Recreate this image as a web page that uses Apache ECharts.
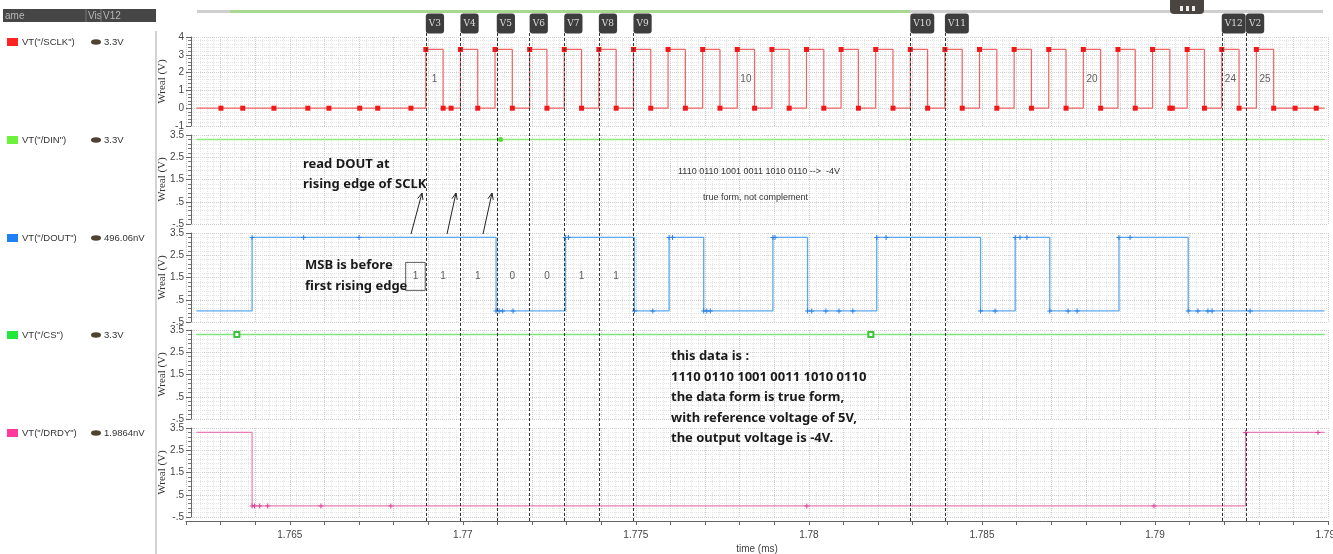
<!DOCTYPE html>
<html>
<head>
<meta charset="utf-8">
<script src="https://cdn.jsdelivr.net/npm/echarts@6/dist/echarts.min.js"></script>
<style>
html, body { margin: 0; padding: 0; background: #fff; }
#main { width: 1333px; height: 554px; }
</style>
</head>
<body>
<div id="main"></div>
<script>
// signals shown in the browser column
var signalNames = ['VT("/SCLK")', 'VT("/DIN")', 'VT("/DOUT")', 'VT("/CS")', 'VT("/DRDY")']
var signalColors = ['#ff2424', '#6cf23c', '#1f80f5', '#22e83a', '#ff3a9c']
var cursorValues = ['3.3V', '3.3V', '496.06nV', '3.3V', '1.9864nV']

// time range (ms)
var timeMin = 1.762
var timeMax = 1.795
var startT = 1.7623
var endT = 1.7949

// SCLK edges (ms)
var sclkRise = [1.76893, 1.76993, 1.77093, 1.77193, 1.77293, 1.77393, 1.77493, 1.77593, 1.77693, 1.77793,
  1.77893, 1.77993, 1.78093, 1.78193, 1.78293, 1.78393, 1.78493, 1.78593, 1.78693, 1.78793,
  1.78893, 1.78993, 1.79093, 1.79193, 1.79293]
var sclkFall = [1.76943, 1.77043, 1.77143, 1.77243, 1.77343, 1.77443, 1.77543, 1.77643, 1.77743, 1.77843,
  1.77943, 1.78043, 1.78143, 1.78243, 1.78343, 1.78443, 1.78543, 1.78643, 1.78743, 1.78843,
  1.78943, 1.79043, 1.79143, 1.79243, 1.79343]
var sclkSamples = [1.76301, 1.76364, 1.76454, 1.76552, 1.76613, 1.76702, 1.76754, 1.7685, 1.76966, 1.7905, 1.79405, 1.79466]
var pulseLabels = [1, 10, 20, 24, 25]

// DOUT edges and levels
var doutEdgeT = [1.76391, 1.77096, 1.77296, 1.77496, 1.77596, 1.77696, 1.77896, 1.77996, 1.78196, 1.78496, 1.78596, 1.78696, 1.78896, 1.79096]
var doutEdgeV = [3.3, 0, 3.3, 0, 3.3, 0, 3.3, 0, 3.3, 0, 3.3, 0, 3.3, 0]
var doutSamples = [1.7654, 1.767, 1.77105, 1.77115, 1.77145, 1.77305, 1.77549, 1.77606, 1.77705, 1.77715, 1.77902,
  1.78008, 1.78049, 1.78087, 1.78127, 1.78223, 1.78538, 1.7861, 1.7863, 1.78749, 1.78775, 1.78928,
  1.79124, 1.79153, 1.79165, 1.79275]
var doutBits = ['1', '1', '1', '0', '0', '1', '1']

// DRDY edges
var drdyEdgeT = [1.76391, 1.79262]
var drdyEdgeV = [0, 3.3]
var drdySamples = [1.76398, 1.76413, 1.76436, 1.7659, 1.76792, 1.77994, 1.78997, 1.79471]

// DIN and CS stay high
var dinSamples = [1.77109]
var csSamples = [1.76347, 1.78179]

// cursors
var cursorNames = ['V3', 'V4', 'V5', 'V6', 'V7', 'V8', 'V9', 'V10', 'V11', 'V12', 'V2']
var cursorT = [1.76893, 1.76993, 1.77098, 1.77193, 1.77293, 1.77393, 1.77493, 1.78293, 1.78393, 1.79193, 1.79263]

var gridTops = [37, 135, 233, 330, 428]
var gridH = 89
var gridLeft = 186
var gridW = 1142

function stepData(startLevel, edgeT, edgeV, sampleT) {
  var ev = []
  edgeT.forEach(function (t, i) { ev.push([t, edgeV[i]]) })
  sampleT.forEach(function (t) { ev.push([t, null]) })
  ev.sort(function (a, b) { return a[0] - b[0] })
  var pts = [{ value: [startT, startLevel], symbol: 'none' }]
  var level = startLevel
  ev.forEach(function (e) {
    if (e[1] !== null) level = e[1]
    pts.push({ value: [e[0], level] })
  })
  pts.push({ value: [endT, level], symbol: 'none' })
  return pts
}

var sclkEdgeT = []
var sclkEdgeV = []
sclkRise.forEach(function (t, i) {
  sclkEdgeT.push(t, sclkFall[i])
  sclkEdgeV.push(3.3, 0)
})

function fmtY(v) {
  var s = String(+v.toFixed(1))
  return s.replace(/^(-?)0\./, '$1.')
}

function xAxisFor(i) {
  var bottom = i === 4
  return {
    gridIndex: i, type: 'value', min: timeMin, max: timeMax, interval: 0.001,
    offset: bottom ? 4 : 0,
    axisLine: { show: bottom, onZero: false, lineStyle: { color: '#666' } },
    axisTick: { show: bottom, length: 4, lineStyle: { color: '#666' } },
    axisLabel: {
      show: bottom, fontSize: 10, color: '#444', margin: 9, fontFamily: 'Liberation Sans',
      formatter: function (v) {
        var m = Math.round(v * 1000)
        return m % 5 === 0 ? String(m / 1000) : ''
      }
    },
    name: bottom ? 'time (ms)' : '',
    nameLocation: 'middle', nameGap: 23,
    nameTextStyle: { fontSize: 10, color: '#444', fontFamily: 'Liberation Sans' },
    splitLine: { show: true, lineStyle: { color: '#cccccc', type: 'dotted' } },
    minorTick: { show: false, splitNumber: 5 },
    minorSplitLine: { show: true, lineStyle: { color: '#e6e6e6', type: 'dotted' } }
  }
}

function yAxisFor(i) {
  var clk = i === 0
  return {
    gridIndex: i, type: 'value', min: clk ? -1 : -0.5, max: clk ? 4 : 3.5, interval: 1,
    offset: -5,
    name: 'Wreal (V)', nameLocation: 'middle', nameGap: 23, nameMoveOverlap: false,
    nameTextStyle: { fontFamily: 'Liberation Serif', fontSize: 11, color: '#333' },
    axisLine: { show: true, lineStyle: { color: '#666' } },
    axisTick: { show: true, length: 5, lineStyle: { color: '#666' } },
    minorTick: { show: true, splitNumber: 5, length: 3, lineStyle: { color: '#777' } },
    axisLabel: { fontSize: 10, color: '#444', margin: 7, fontFamily: 'Liberation Sans', formatter: fmtY },
    splitLine: { show: true, lineStyle: { color: '#cccccc', type: 'dotted' } },
    minorSplitLine: { show: true, lineStyle: { color: '#e4e4e4', type: 'dotted' } }
  }
}

var grids = []
var xAxes = []
var yAxes = []
for (var i = 0; i < 5; i++) {
  grids.push({ left: gridLeft, top: gridTops[i], width: gridW, height: gridH, outerBoundsMode: 'none' })
  xAxes.push(xAxisFor(i))
  yAxes.push(yAxisFor(i))
}
// overlay grid for cursors
grids.push({ left: gridLeft, top: 33, width: gridW, height: 488, outerBoundsMode: 'none' })
xAxes.push({ gridIndex: 5, type: 'value', min: timeMin, max: timeMax, show: false })
yAxes.push({ gridIndex: 5, type: 'value', min: 0, max: 1, show: false })

var plusPath = 'path://M2,0H3V2H5V3H3V5H2V3H0V2H2Z'

function wave(i, data, lineColor, symColor, symbol, symSize, width) {
  return {
    type: 'line', step: 'end', xAxisIndex: i, yAxisIndex: i,
    data: data, symbol: symbol, symbolSize: symSize, showAllSymbol: true,
    itemStyle: { color: symColor },
    lineStyle: { color: lineColor, width: width },
    z: 3
  }
}

var series = [
  wave(0, stepData(0, sclkEdgeT, sclkEdgeV, sclkSamples), '#f06464', '#f01818', 'rect', 5, 1.2),
  wave(1, stepData(3.3, [], [], dinSamples), '#8fe87a', '#5cd640', 'circle', 5, 1.6),
  wave(2, stepData(0, doutEdgeT, doutEdgeV, doutSamples), '#5ca8ee', '#2a7fe0', plusPath, 5, 1.3),
  wave(3, stepData(3.3, [], [], csSamples), '#7fe27f', '#3dc43d', 'emptyRect', 5, 1.6),
  wave(4, stepData(3.3, drdyEdgeT, drdyEdgeV, drdySamples), '#e87cb6', '#e0409a', plusPath, 5, 1.2),
  {
    // clock pulse numbers
    type: 'scatter', xAxisIndex: 0, yAxisIndex: 0, symbolSize: 0, z: 5,
    data: pulseLabels.map(function (k) {
      return { value: [(sclkRise[k - 1] + sclkFall[k - 1]) / 2, 1.65], name: String(k) }
    }),
    label: { show: true, position: 'inside', formatter: '{b}', fontSize: 10, color: '#333', fontFamily: 'Liberation Sans' }
  },
  {
    // DOUT bit values
    type: 'scatter', xAxisIndex: 2, yAxisIndex: 2, symbolSize: 0, z: 5,
    data: doutBits.map(function (b, n) {
      var t = n === 0 ? sclkRise[0] - 0.0003 : (sclkRise[n - 1] + sclkRise[n]) / 2
      var item = { value: [t, 1.55], name: b }
      if (n === 0) item.label = { borderColor: '#333', borderWidth: 1, padding: [9, 7, 9, 7] }
      return item
    }),
    label: { show: true, position: 'inside', formatter: '{b}', fontSize: 10, color: '#333', fontFamily: 'Liberation Sans' }
  },
  {
    // cursors
    type: 'scatter', xAxisIndex: 5, yAxisIndex: 5, symbolSize: 1, z: 6,
    itemStyle: { color: 'rgba(0,0,0,0)' },
    data: cursorNames.map(function (n, k) { return { value: [cursorT[k], 1], name: n } }),
    label: {
      show: true, position: [0.5, -19], formatter: '{b}',
      fontFamily: 'DejaVu Serif', fontSize: 9, color: '#fff', lineHeight: 11,
      backgroundColor: '#0c0c0c', borderRadius: 3, padding: [5, 3, 4, 3]
    },
    markLine: {
      silent: true, symbol: 'none', animation: false, precision: 6,
      label: { show: false },
      lineStyle: { color: '#333', type: [3, 2], width: 1 },
      data: cursorT.map(function (t) { return { xAxis: t } })
    }
  }
]

// annotation arrows (pixel positions)
var arrows = [[411, 234, 422, 193], [447, 234, 456, 193], [483, 234, 492, 193]]
var graphics = []
arrows.forEach(function (a) {
  var dx = a[2] - a[0], dy = a[3] - a[1]
  var len = Math.sqrt(dx * dx + dy * dy)
  var ux = dx / len, uy = dy / len
  var hl = 7, ang = 0.4
  var h1 = [a[2] - hl * (ux * Math.cos(ang) - uy * Math.sin(ang)), a[3] - hl * (uy * Math.cos(ang) + ux * Math.sin(ang))]
  var h2 = [a[2] - hl * (ux * Math.cos(-ang) - uy * Math.sin(-ang)), a[3] - hl * (uy * Math.cos(-ang) + ux * Math.sin(-ang))]
  graphics.push({ type: 'line', shape: { x1: a[0], y1: a[1], x2: a[2], y2: a[3] }, style: { stroke: '#222', lineWidth: 1 }, z: 10 })
  graphics.push({ type: 'polyline', shape: { points: [h1, [a[2], a[3]], h2] }, style: { stroke: '#222', lineWidth: 1, fill: null }, z: 10 })
})

var boldFont = { fontFamily: 'Noto Sans', fontWeight: 'bold', fontSize: 13, fill: '#1a1a1a' }
function note(x, y, text, lh, st) {
  return {
    type: 'text', x: x, y: y, z: 10,
    style: Object.assign({ text: text, lineHeight: lh, align: 'left', verticalAlign: 'top' }, st)
  }
}
graphics.push(note(303, 154, 'read DOUT at\nrising edge of SCLK', 20, boldFont))
graphics.push(note(305, 255, 'MSB is before\nfirst rising edge', 21, boldFont))
graphics.push(note(671, 346, 'this data is :\n1110 0110 1001 0011 1010 0110\nthe data form is true form,\nwith reference voltage of 5V,\nthe output voltage is -4V.', 20.6, boldFont))
graphics.push(note(678, 166, '1110 0110 1001 0011 1010 0110 -->  -4V', 11, { fontFamily: 'Liberation Sans', fontSize: 9, fill: '#333' }))
graphics.push(note(703, 192, 'true form, not complement', 11, { fontFamily: 'Liberation Sans', fontSize: 9, fill: '#333' }))

// signal browser column
graphics.push({ type: 'rect', shape: { x: 3, y: 9, width: 153, height: 13 }, style: { fill: '#464646' }, z: 10 })
graphics.push({ type: 'line', shape: { x1: 86, y1: 9, x2: 86, y2: 22 }, style: { stroke: '#777', lineWidth: 1 }, z: 11 })
graphics.push({ type: 'line', shape: { x1: 101, y1: 9, x2: 101, y2: 22 }, style: { stroke: '#777', lineWidth: 1 }, z: 11 })
graphics.push(note(5, 10, 'ame', 12, { fontFamily: 'Liberation Sans', fontSize: 10, fill: '#b8b8b8' }))
graphics.push(note(88, 10, 'Vis', 12, { fontFamily: 'Liberation Sans', fontSize: 10, fill: '#b8b8b8' }))
graphics.push(note(103, 10, 'V12', 12, { fontFamily: 'Liberation Sans', fontSize: 10, fill: '#b8b8b8' }))
graphics.push({ type: 'line', shape: { x1: 156, y1: 31, x2: 156, y2: 554 }, style: { stroke: '#c4c4c4', lineWidth: 1.5 }, z: 10 })

signalNames.forEach(function (n, k) {
  var cy = gridTops[k] + 5
  graphics.push({ type: 'rect', shape: { x: 7, y: cy - 4, width: 11, height: 8 }, style: { fill: signalColors[k] }, z: 10 })
  graphics.push({ type: 'text', x: 22, y: cy, z: 10, style: { text: n, fontFamily: 'Liberation Sans', fontSize: 9.5, fill: '#333', verticalAlign: 'middle' } })
  graphics.push({ type: 'circle', x: 96, y: cy, scaleY: 0.55, shape: { cx: 0, cy: 0, r: 5 }, style: { fill: '#4e4232' }, z: 10 })
  graphics.push({ type: 'text', x: 104, y: cy, z: 10, style: { text: cursorValues[k], fontFamily: 'Liberation Sans', fontSize: 9.5, fill: '#333', verticalAlign: 'middle' } })
})

// scroll bar strip above the plots
graphics.push({ type: 'rect', shape: { x: 197, y: 10, width: 1126, height: 3 }, style: { fill: '#cfcfcf' }, z: 10 })
graphics.push({ type: 'rect', shape: { x: 230, y: 10, width: 680, height: 3 }, style: { fill: '#a9d893' }, z: 11 })
graphics.push({ type: 'rect', shape: { x: 1170, y: -5, width: 34, height: 19, r: 4 }, style: { fill: '#4a4540' }, z: 12 })
graphics.push({ type: 'rect', shape: { x: 1180, y: 6, width: 3, height: 5 }, style: { fill: '#eee' }, z: 13 })
graphics.push({ type: 'rect', shape: { x: 1186, y: 6, width: 3, height: 5 }, style: { fill: '#eee' }, z: 13 })
graphics.push({ type: 'rect', shape: { x: 1192, y: 6, width: 3, height: 5 }, style: { fill: '#eee' }, z: 13 })

var chart = echarts.init(document.getElementById('main'))
chart.setOption({
  animation: false,
  backgroundColor: '#fff',
  grid: grids,
  xAxis: xAxes,
  yAxis: yAxes,
  series: series,
  graphic: graphics
})
</script>
</body>
</html>
